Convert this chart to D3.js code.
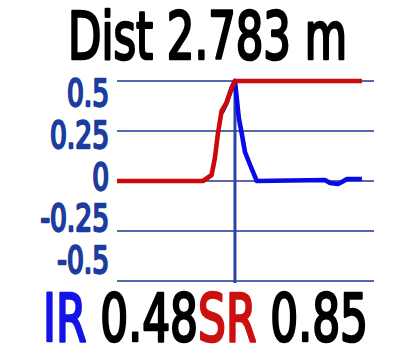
<!DOCTYPE html>
<html><head><meta charset="utf-8">
<script src="https://cdn.jsdelivr.net/npm/d3@7"></script>
<style>html,body{margin:0;padding:0;background:#fff;}</style>
</head><body>
<svg id="c" width="420" height="356"></svg>
<script>
const titleText = "Dist 2.783 m";
const tickValues = [0.5, 0.25, 0, -0.25, -0.5];
const tickLabels = ["0.5", "0.25", "0", "-0.25", "-0.5"];
const redX = [0, 33.5, 36.8, 38.1, 39.3, 40.7, 42.6, 44.6, 45.9, 95.3];
const redY = [0, 0, 0.03, 0.115, 0.24, 0.35, 0.39, 0.465, 0.5, 0.5];
const blueX = [40.7, 42.6, 44.6, 45.9, 47.4, 48.5, 49.8, 51.8, 54.4, 80.9, 82.9, 86, 87.5, 89.5, 95.3];
const blueY = [0.34, 0.39, 0.465, 0.5, 0.315, 0.24, 0.145, 0.08, 0.0, 0.005, -0.01, -0.015, -0.005, 0.01, 0.01];
const markerX = 45.9;
const footer = [
  {t: "IR", c: "#1414e6"}, {t: " 0.48", c: "#000"},
  {t: "SR", c: "#cc1010"}, {t: " 0.85", c: "#000"}
];

const svg = d3.select("#c");
const font = "'DejaVu Sans Condensed', 'DejaVu Sans', sans-serif";
const CAP = 0.729;
const x = d3.scaleLinear().domain([0, 100]).range([117, 374]);
const y = d3.scaleLinear().domain([-0.5, 0.5]).range([281, 81]);
const labelY = d3.scaleLinear().domain([-0.5, 0.5]).range([274, 107]);

// grid
svg.append("g").selectAll("line").data(tickValues).join("line")
  .attr("x1", x(0)).attr("x2", x(100))
  .attr("y1", d => y(d)).attr("y2", d => y(d))
  .attr("stroke", "#1f3596").attr("stroke-width", 1.4);

// vertical marker
svg.append("line")
  .attr("x1", x(markerX)).attr("x2", x(markerX))
  .attr("y1", y(0.5)).attr("y2", y(-0.5) + 2)
  .attr("stroke", "#2a45a5").attr("stroke-width", 3);

const line = d3.line().x(d => x(d[0])).y(d => y(d[1]));
svg.append("path").datum(blueX.map((v, i) => [v, blueY[i]]))
  .attr("d", line).attr("fill", "none").attr("stroke", "#0a0ae8")
  .attr("stroke-width", 4.6).attr("stroke-linejoin", "round");
svg.append("path").datum(redX.map((v, i) => [v, redY[i]]))
  .attr("d", line).attr("fill", "none").attr("stroke", "#cc0808")
  .attr("stroke-width", 4.6).attr("stroke-linejoin", "round");

function natW(txt, size) {
  const t = svg.append("text").attr("font-family", font)
    .attr("font-size", size).attr("xml:space", "preserve").text(txt);
  const w = t.node().getComputedTextLength();
  t.remove();
  return w;
}
// draws text at (x0, baseline) with given font size, stretched vertically to cap height
function drawText(txt, x0, base, size, capH, color, anchor, sw) {
  const sy = capH / (CAP * size);
  return svg.append("text")
    .attr("transform", `translate(${x0},${base}) scale(1,${sy})`)
    .attr("text-anchor", anchor || "start")
    .attr("font-family", font).attr("font-size", size)
    .attr("fill", color).attr("stroke", color).attr("stroke-width", sw)
    .attr("stroke-linejoin", "round")
    .attr("xml:space", "preserve")
    .text(txt);
}

// tick labels
const sizeL = 100 * 59 / natW("0.25", 100);
tickValues.forEach((v, i) => {
  drawText(tickLabels[i], 109, labelY(v) - 0.8, sizeL, 27.5, "#1c3c9e", "end", 1.8);
});

// title
const sizeT = 100 * 279 / natW(titleText, 100);
drawText(titleText, 68, 59, sizeT, 48, "#000", "start", 2);

// footer
const sizeF = 100 * 325 / natW(footer.map(p => p.t).join(""), 100);
let fx = 43;
footer.forEach(p => {
  drawText(p.t, fx, 341, sizeF, 48, p.c, "start", 2);
  fx += natW(p.t, sizeF);
});
</script>
</body></html>
